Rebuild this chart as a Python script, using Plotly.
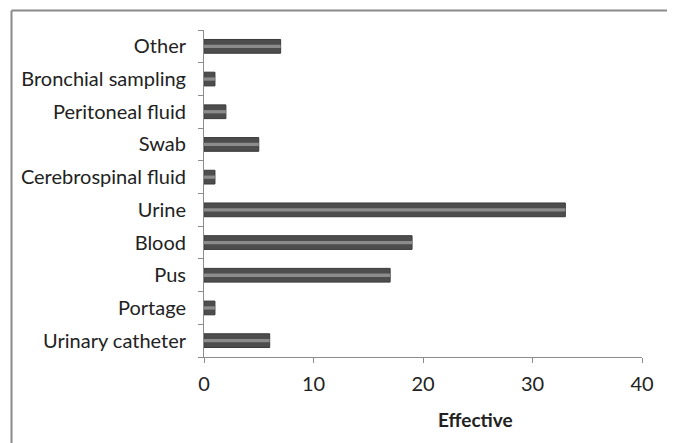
import plotly.graph_objects as go

categories = ["Urinary catheter", "Portage", "Pus", "Blood", "Urine",
              "Cerebrospinal fluid", "Swab", "Peritoneal fluid",
              "Bronchial sampling", "Other"]
values = [6, 1, 17, 19, 33, 1, 5, 2, 1, 7]
x_ticks = [0, 10, 20, 30, 40]
x_title = "Effective"

OFF = 8  # page body offset
W, H = 675, 443
L, R, T, B = 204 - OFF, 33 + OFF, 30 - OFF, 86 + OFF
pw, ph = W - L - R, H - T - B

fig = go.Figure()
fig.add_trace(go.Bar(y=categories, x=values, orientation="h", width=0.42,
                     marker=dict(color="#4d4d4d", line=dict(color="#3a3a3a", width=1)),
                     hoverinfo="x+y"))
fig.add_trace(go.Bar(y=categories, x=values, orientation="h", width=0.1,
                     marker=dict(color="#8c8c8c", line=dict(width=0)),
                     hoverinfo="skip"))

def px_x(p):
    return (p - OFF - L) / pw

def px_y(p):
    return (H - B - (p - OFF)) / ph

fig.update_layout(
    width=W, height=H,
    margin=dict(l=L, r=R, t=T, b=B),
    barmode="overlay",
    showlegend=False,
    paper_bgcolor="white", plot_bgcolor="white",
    font=dict(family="Lato, Open Sans, sans-serif", size=20, color="#222222"),
    xaxis=dict(range=[0, 40], tickvals=x_ticks, showgrid=False, zeroline=False,
               showline=True, linecolor="#8c8c8c", linewidth=1,
               ticks="outside", ticklen=5, tickcolor="#8c8c8c",
               ticklabelstandoff=4, fixedrange=True),
    yaxis=dict(categoryorder="array", categoryarray=categories,
               showgrid=False, showline=True, linecolor="#8c8c8c", linewidth=1,
               ticks="outside", tickson="boundaries", ticklen=5, tickcolor="#8c8c8c",
               ticklabelstandoff=13, fixedrange=True),
    shapes=[
        dict(type="line", xref="paper", yref="paper", x0=px_x(11.5), x1=px_x(W + 10),
             y0=px_y(10.5), y1=px_y(10.5), line=dict(color="#8a8a8a", width=2)),
        dict(type="line", xref="paper", yref="paper", x0=px_x(11.5), x1=px_x(11.5),
             y0=px_y(10.5), y1=px_y(H + 10), line=dict(color="#8a8a8a", width=2)),
    ],
    annotations=[dict(text="<b>" + x_title + "</b>", xref="paper", yref="paper",
                      x=px_x(475), y=px_y(419), xanchor="center", yanchor="middle",
                      showarrow=False, font=dict(size=19, color="#222222"))],
)

fig.write_html("out.html")
